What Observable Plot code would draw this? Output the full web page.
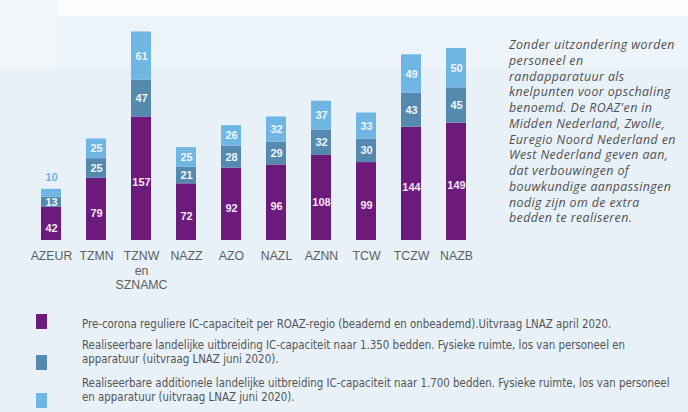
<!DOCTYPE html>
<html>
<head>
<meta charset="utf-8">
<script src="https://cdn.jsdelivr.net/npm/d3@7"></script>
<script src="https://cdn.jsdelivr.net/npm/@observablehq/plot@0.6"></script>
<style>
  html, body { margin: 0; padding: 0; }
  #wrap { position: relative; width: 688px; height: 412px; overflow: hidden; background: #e8f1f8; }
  #band1 { position: absolute; left: 57px; top: 0; width: 631px; height: 16px; background: #fafcfe; }
  #band2 { position: absolute; left: 0; top: 0; width: 57px; height: 68px; background: #f1f6fa; }
  #band3 { position: absolute; left: 57px; top: 16px; width: 631px; height: 52px; background: #edf4f9; }
  #chart { position: absolute; left: 0; top: 0; }
  #note { position: absolute; left: 509px; top: 37px; font-family: "Open Sans", "Noto Sans", sans-serif; font-style: italic; font-size: 12.4px; line-height: 15.75px; color: #505050; white-space: pre; letter-spacing: 0.4px; }
  #legend { position: absolute; left: 0; top: 300px; width: 688px; height: 112px; font-family: "Liberation Sans Narrow", "DejaVu Sans Condensed", sans-serif; font-size: 11.4px; line-height: 14px; color: #555; }
  .sw { position: absolute; left: 36px; width: 11px; height: 15px; }
  .txt { position: absolute; left: 82px; white-space: pre; }
</style>
</head>
<body>
<div id="wrap">
  <div id="band1"></div><div id="band2"></div><div id="band3"></div>
  <div id="chart"></div>
  <div id="note"></div>
  <div id="legend"></div>
</div>
<script>
// ---- data ----
const regions = ["AZEUR", "TZMN", "TZNW\nen\nSZNAMC", "NAZZ", "AZO", "NAZL", "AZNN", "TCW", "TCZW", "NAZB"];
const preCorona = [42, 79, 157, 72, 92, 96, 108, 99, 144, 149];
const uitbreiding1350 = [13, 25, 47, 21, 28, 29, 32, 30, 43, 45];
const uitbreiding1700 = [10, 25, 61, 25, 26, 32, 37, 33, 49, 50];
const seriesNames = [
  "Pre-corona reguliere IC-capaciteit per ROAZ-regio (beademd en onbeademd).Uitvraag LNAZ april 2020.",
  "Realiseerbare landelijke uitbreiding IC-capaciteit naar 1.350 bedden. Fysieke ruimte, los van personeel en\napparatuur (uitvraag LNAZ juni 2020).",
  "Realiseerbare additionele landelijke uitbreiding IC-capaciteit naar 1.700 bedden. Fysieke ruimte, los van personeel\nen apparatuur (uitvraag LNAZ juni 2020)."
];
const seriesColors = ["#6c1a7b", "#5689ae", "#6fb6e4"];
const noteLines = [
  "Zonder uitzondering worden",
  "personeel en",
  "randapparatuur als",
  "knelpunten voor opschaling",
  "benoemd. De ROAZ'en in",
  "Midden Nederland, Zwolle,",
  "Euregio Noord Nederland en",
  "West Nederland geven aan,",
  "dat verbouwingen of",
  "bouwkundige aanpassingen",
  "nodig zijn om de extra",
  "bedden te realiseren."
];

// ---- table (stack bases derived from the arrays) ----
const seriesValues = [preCorona, uitbreiding1350, uitbreiding1700];
const data = [];
regions.forEach((r, i) => {
  let base = 0;
  seriesValues.forEach((vals, s) => {
    const v = vals[i];
    data.push({region: r, value: v, series: seriesNames[s], s, base, mid: base + v / 2, top: base + v});
    base += v;
  });
});
const isOutside = d => d.s === 2 && d.value < 15;

const chart = Plot.plot({
  width: 688,
  height: 300,
  marginLeft: 25,
  marginRight: 206,
  marginTop: 0,
  marginBottom: 60,
  style: {background: "transparent", fontFamily: "'Liberation Sans', Arial, sans-serif", fontSize: "12px", color: "#5e5e5e"},
  x: {domain: regions, paddingInner: 0.56, paddingOuter: 0.28, axis: null},
  y: {domain: [0, 305], axis: null},
  color: {domain: seriesNames, range: seriesColors},
  marks: [
    Plot.axisX({tickSize: 0, tickPadding: 9, lineHeight: 1.2, label: null, fontSize: 12.3}),
    Plot.barY(data, Plot.stackY({x: "region", y: "value", fill: "series", z: "series", order: seriesNames})),
    Plot.text(data.filter(d => d.s === 0), {
      x: "region", y: "mid", text: d => String(d.value),
      fill: "#f3e6f3", dy: 4, fontWeight: "bold", fontSize: 11
    }),
    Plot.text(data.filter(d => d.s > 0 && !isOutside(d)), {
      x: "region", y: "mid", text: d => String(d.value),
      fill: "#eef6fc", fontWeight: "bold", fontSize: 11
    }),
    Plot.text(data.filter(isOutside), {
      x: "region", y: "top", text: d => String(d.value),
      fill: seriesColors[2], dy: -12, fontWeight: "bold", fontSize: 11
    })
  ]
});
document.getElementById("chart").appendChild(chart);

document.getElementById("note").textContent = noteLines.join("\n");

const legend = document.getElementById("legend");
const swTops = [14, 55, 93];
const txtTops = [17, 38, 76];
seriesNames.forEach((name, i) => {
  const sw = document.createElement("div");
  sw.className = "sw";
  sw.style.top = swTops[i] + "px";
  sw.style.background = seriesColors[i];
  legend.appendChild(sw);
  const tx = document.createElement("div");
  tx.className = "txt";
  tx.style.top = txtTops[i] + "px";
  tx.textContent = name;
  legend.appendChild(tx);
});
</script>
</body>
</html>
